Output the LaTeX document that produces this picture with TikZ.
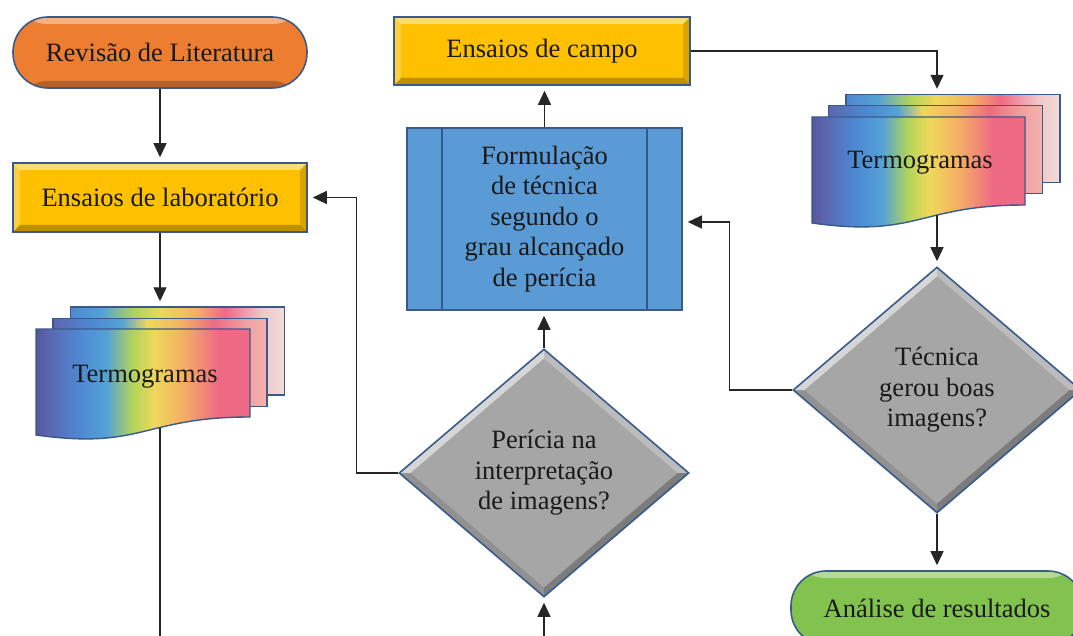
\documentclass[tikz,border=0pt]{standalone}
\usepackage{fontspec}
\setmainfont{Liberation Serif}
\usetikzlibrary{arrows.meta,shapes.geometric,calc}
\definecolor{orangeC}{HTML}{ED7D31}
\definecolor{yellowC}{HTML}{FFC000}
\definecolor{blueC}{HTML}{5B9BD5}
\definecolor{grayC}{HTML}{A6A6A6}
\definecolor{greenC}{HTML}{82C24E}
\definecolor{borderC}{HTML}{3A5A8C}
\definecolor{innerC}{HTML}{2E5A8E}
% rainbow colours
\definecolor{r1}{HTML}{56579A}\definecolor{r2}{HTML}{5C66B0}\definecolor{r3}{HTML}{4E88D2}
\definecolor{r4}{HTML}{54A2D6}\definecolor{r5}{HTML}{B2D45A}\definecolor{r6}{HTML}{EED85A}
\definecolor{r7}{HTML}{F4B264}\definecolor{r8}{HTML}{EE6A84}
\definecolor{m9}{HTML}{F0A0A0}\definecolor{m10}{HTML}{F2B4B0}
\definecolor{b9}{HTML}{F0C8C8}\definecolor{b10}{HTML}{F2DCD8}
\pgfdeclarehorizontalshading{rainF}{100bp}{color(0bp)=(r1); color(25bp)=(r1); color(28bp)=(r2); color(35bp)=(r3); color(41.5bp)=(r4); color(47.5bp)=(r5); color(52.5bp)=(r6); color(59bp)=(r7); color(67.5bp)=(r8); color(75bp)=(r8); color(100bp)=(r8)}
\pgfdeclarehorizontalshading{rainM}{100bp}{color(0bp)=(r2); color(25bp)=(r2); color(34bp)=(r3); color(41bp)=(r4); color(47bp)=(r6); color(55bp)=(r7); color(62.5bp)=(r8); color(70bp)=(m9); color(75bp)=(m10); color(100bp)=(m10)}
\pgfdeclarehorizontalshading{rainB}{100bp}{color(0bp)=(r3); color(25bp)=(r3); color(32.5bp)=(r4); color(40bp)=(r5); color(46bp)=(r6); color(54bp)=(r7); color(61bp)=(r8); color(70bp)=(b9); color(75bp)=(b10); color(100bp)=(b10)}
\def\bv{7pt}
\tikzset{
  txt/.style={font=\fontsize{26.5}{30.5}\selectfont, text=black!90, align=center, inner sep=0pt},
  shapebase/.style={txt, draw=borderC, line width=1.6pt},
  bevelR/.style={path picture={
    \fill[white,opacity=.45] (path picture bounding box.north west) -- (path picture bounding box.north east) -- ([xshift=-\bv,yshift=-\bv]path picture bounding box.north east) -- ([xshift=\bv,yshift=-\bv]path picture bounding box.north west) -- cycle;
    \fill[black,opacity=.25] (path picture bounding box.south west) -- (path picture bounding box.south east) -- ([xshift=-\bv,yshift=\bv]path picture bounding box.south east) -- ([xshift=\bv,yshift=\bv]path picture bounding box.south west) -- cycle;
    \fill[white,opacity=.25] (path picture bounding box.north west) -- ([xshift=\bv,yshift=-\bv]path picture bounding box.north west) -- ([xshift=\bv,yshift=\bv]path picture bounding box.south west) -- (path picture bounding box.south west) -- cycle;
    \fill[black,opacity=.15] (path picture bounding box.north east) -- ([xshift=-\bv,yshift=-\bv]path picture bounding box.north east) -- ([xshift=-\bv,yshift=\bv]path picture bounding box.south east) -- (path picture bounding box.south east) -- cycle;
  }},
  bevelT/.style={path picture={
    \fill[white,opacity=.4] (path picture bounding box.north west) rectangle ([yshift=-\bv]path picture bounding box.north east);
    \fill[black,opacity=.22] (path picture bounding box.south west) rectangle ([yshift=\bv]path picture bounding box.south east);
  }},
  bevelD/.style={path picture={
    \fill[white,opacity=.55] (path picture bounding box.west) -- (path picture bounding box.north) -- ([yshift=-9pt]path picture bounding box.north) -- ([xshift=11pt]path picture bounding box.west) -- cycle;
    \fill[white,opacity=.25] (path picture bounding box.north) -- (path picture bounding box.east) -- ([xshift=-11pt]path picture bounding box.east) -- ([yshift=-9pt]path picture bounding box.north) -- cycle;
    \fill[black,opacity=.25] (path picture bounding box.east) -- (path picture bounding box.south) -- ([yshift=9pt]path picture bounding box.south) -- ([xshift=-11pt]path picture bounding box.east) -- cycle;
    \fill[black,opacity=.12] (path picture bounding box.south) -- (path picture bounding box.west) -- ([xshift=11pt]path picture bounding box.west) -- ([yshift=9pt]path picture bounding box.south) -- cycle;
  }},
  terminal/.style={shapebase, rectangle, rounded corners=35pt, bevelT},
  procbox/.style={shapebase, rectangle, bevelR},
  decision/.style={shapebase, diamond, fill=grayC, minimum width=290pt, minimum height=248pt, bevelD},
  sheet/.style={draw=borderC, line width=1.4pt, rectangle, minimum width=214pt, minimum height=88pt, inner sep=0pt},
  arr/.style={draw=black!85, line width=1.3pt, -{Triangle[length=14pt,width=13pt]}, shorten >=5pt},
  con/.style={draw=black!85, line width=1.3pt}
}
\begin{document}
\begin{tikzpicture}[x=1pt,y=-1pt]
\useasboundingbox (0,0) rectangle (1073,636);
\clip (0,0) rectangle (1073,636);
\fill[white] (0,0) rectangle (1073,636);

% left column
\node[terminal, fill=orangeC, minimum width=294pt, minimum height=71pt] (rev) at (160,52.5) {Revisão de Literatura};
\node[procbox, fill=yellowC, minimum width=294pt, minimum height=69pt] (lab) at (160,197.5) {Ensaios de laboratório};

% left termogramas stack
\node[sheet, shading=rainB] (tLback) at (177.5,351) {};
\node[sheet, shading=rainM] (tLmid) at (160,362.5) {};
\shade[shading=rainF, draw=borderC, line width=1.4pt] (36,329) -- (250,329) -- (250,417) .. controls (143,417) and (143,450) .. (36,435) -- cycle;
\node[txt] (tLtext) at (145,377) {Termogramas};
\coordinate (tLwave) at (160,427.6);
\coordinate (tLend) at (160,640);

% middle column
\node[procbox, fill=yellowC, minimum width=296pt, minimum height=68pt] (campo) at (542,51) {Ensaios de campo};
\node[procbox, fill=blueC, minimum width=275pt, minimum height=182pt,
  path picture={\draw[innerC, line width=1.3pt] ([xshift=35pt]path picture bounding box.north west) -- ([xshift=35pt]path picture bounding box.south west);
                \draw[innerC, line width=1.3pt] ([xshift=-35pt]path picture bounding box.north east) -- ([xshift=-35pt]path picture bounding box.south east);}]
  (form) at (544.5,219) {Formulação\\de técnica\\segundo o\\grau alcançado\\de perícia};
\node[decision] (per) at (544,473) {Perícia na\\interpretação\\de imagens?};
\coordinate (perin) at (544,640);

% right column
\node[sheet, shading=rainB] (tRback) at (953,138.5) {};
\node[sheet, shading=rainM] (tRmid) at (935.5,149.5) {};
\shade[shading=rainF, draw=borderC, line width=1.4pt] (812,117) -- (1025,117) -- (1025,205) .. controls (918.5,205) and (918.5,238) .. (812,223) -- cycle;
\node[txt] (tRtext) at (920,163) {Termogramas};
\coordinate (tRwave) at (937,215.5);
\node[decision, minimum width=288pt, minimum height=246pt] (tec) at (937,390) {Técnica\\gerou boas\\imagens?};
\node[terminal, fill=greenC, minimum width=292pt, minimum height=74pt] (anal) at (937,608) {Análise de resultados};

% connectors
\draw[arr] (rev.south) -- (lab.north);
\draw[arr] (lab.south) -- (lab.south |- tLback.north);
\draw[con] (tLwave) -- (tLend);
\draw[arr] (perin) -- (per.south);
\draw[arr] (per.north) -- (per.north |- form.south);
\draw[arr] (form.north) -- (form.north |- campo.south);
\draw[arr] (per.west) -- ++(-42,0) |- (lab.east);
\draw[arr] (campo.east) -| (tec.north |- tRback.north);
\draw[arr] (tRwave) -- (tec.north);
\draw[arr] (tec.west) -- ++(-63,0) |- ([yshift=-3pt]form.east);
\draw[arr] (tec.south) -- (anal.north);
\end{tikzpicture}
\end{document}
